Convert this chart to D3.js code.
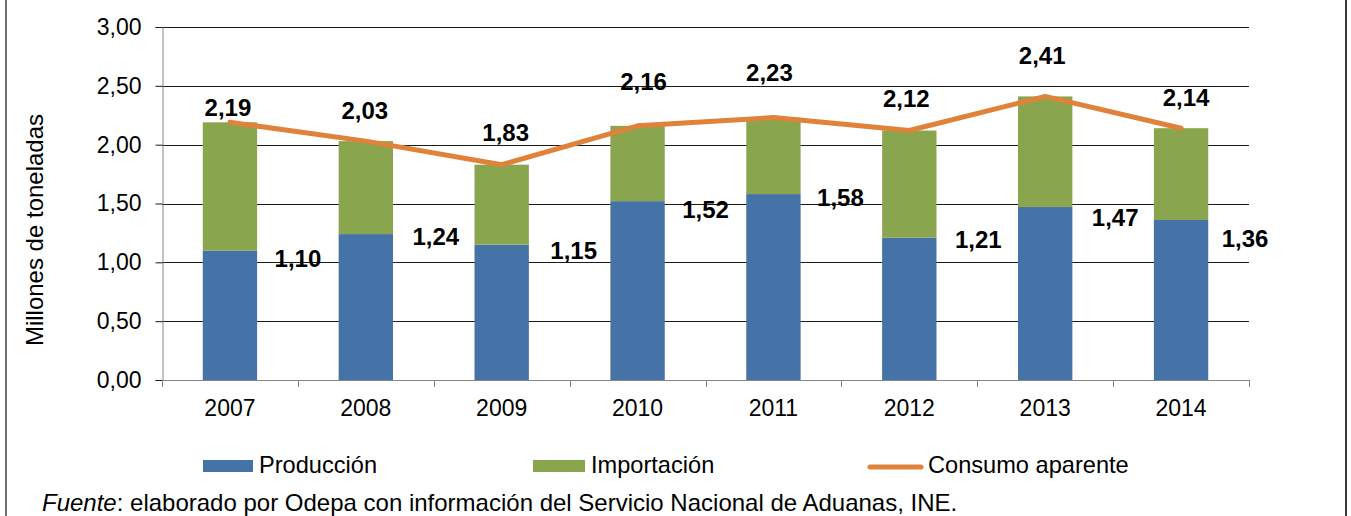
<!DOCTYPE html>
<html>
<head>
<meta charset="utf-8">
<script src="https://cdn.jsdelivr.net/npm/d3@7/dist/d3.min.js"></script>
<style>
  html, body { margin: 0; padding: 0; background: #fff; }
  svg { display: block; }
  text { font-family: "Liberation Sans", Arial, sans-serif; fill: #000; }
</style>
</head>
<body>
<svg id="chart" width="1351" height="516"></svg>
<script>
// ---- data ----
const years = ["2007", "2008", "2009", "2010", "2011", "2012", "2013", "2014"];
const produccion = [1.10, 1.24, 1.15, 1.52, 1.58, 1.21, 1.47, 1.36];
const consumo = [2.19, 2.03, 1.83, 2.16, 2.23, 2.12, 2.41, 2.14];
const importacion = consumo.map((c, i) => +(c - produccion[i]).toFixed(2));
const yTicks = [0, 0.5, 1, 1.5, 2, 2.5, 3];
const seriesNames = ["Producción", "Importación", "Consumo aparente"];
const yTitle = "Millones de toneladas";
const sourceItalic = "Fuente";
const sourceRest = ": elaborado por Odepa con información del Servicio Nacional de Aduanas, INE.";

// label nudges (pixels), as placed in the original
const totalLabelDx = [-2, -1, 4, 6, -4, -3, -3, 5];
const totalLabelDy = [-15, -31, -32, -44, -45, -32, -41, -31];
const prodLabelDx = [68, 70, 72, 68, 67, 69, 70, 64];
const prodLabelDy = [8, 3, 6, 8, 4, 2, 11, 19];

const colors = { prod: "#4572A7", imp: "#89A54E", line: "#E0823A" };
const fmt = v => v.toFixed(2).replace(".", ",");

const svg = d3.select("#chart");
const plot = { left: 162, right: 1249, top: 27, bottom: 380 };

const x = d3.scaleBand().domain(years).range([plot.left, plot.right])
  .paddingInner(0.6).paddingOuter(0.3);
const step = x.step();
const y = d3.scaleLinear().domain([0, 3]).range([plot.bottom, plot.top]);

// frame lines
svg.append("line").attr("x1", 6).attr("x2", 6).attr("y1", 0).attr("y2", 516)
  .attr("stroke", "#6e6e6e").attr("stroke-width", 2);
svg.append("line").attr("x1", 1346).attr("x2", 1346).attr("y1", 0).attr("y2", 516)
  .attr("stroke", "#3a3a3a").attr("stroke-width", 2);

// gridlines
svg.append("g").selectAll("line").data(yTicks.filter(t => t > 0)).join("line")
  .attr("x1", plot.left).attr("x2", plot.right)
  .attr("y1", d => Math.round(y(d)) + 0.5).attr("y2", d => Math.round(y(d)) + 0.5)
  .attr("stroke", "#1a1a1a").attr("stroke-width", 1);

// y axis
const yAxis = svg.append("g").attr("transform", `translate(${plot.left + 0.5},0)`)
  .call(d3.axisLeft(y).tickValues(yTicks).tickSize(7).tickPadding(14).tickFormat(fmt));
yAxis.select(".domain").attr("stroke", "#868686");
yAxis.selectAll(".tick line").attr("stroke", "#1a1a1a");
yAxis.selectAll(".tick text").attr("font-size", 23).attr("font-family", "Liberation Sans, Arial, sans-serif").attr("fill", "#000");

// y axis title
svg.append("text").attr("transform", "translate(35,230) rotate(-90)")
  .attr("text-anchor", "middle").attr("dy", "0.35em").attr("font-size", 24)
  .text(yTitle);

// bars
const g = svg.append("g");
g.selectAll("rect.prod").data(years).join("rect").attr("class", "prod")
  .attr("x", d => x(d)).attr("width", x.bandwidth())
  .attr("y", (d, i) => y(produccion[i])).attr("height", (d, i) => y(0) - y(produccion[i]))
  .attr("fill", colors.prod);
g.selectAll("rect.imp").data(years).join("rect").attr("class", "imp")
  .attr("x", d => x(d)).attr("width", x.bandwidth())
  .attr("y", (d, i) => y(produccion[i] + importacion[i]))
  .attr("height", (d, i) => y(produccion[i]) - y(produccion[i] + importacion[i]))
  .attr("fill", colors.imp);

// x axis (category boundaries as ticks)
svg.append("line").attr("x1", plot.left).attr("x2", plot.right)
  .attr("y1", plot.bottom + 0.5).attr("y2", plot.bottom + 0.5).attr("stroke", "#868686");
const bounds = d3.range(years.length + 1).map(i => plot.left + i * step);
svg.append("g").selectAll("line").data(bounds).join("line")
  .attr("x1", d => Math.round(d) + 0.5).attr("x2", d => Math.round(d) + 0.5)
  .attr("y1", plot.bottom).attr("y2", plot.bottom + 7).attr("stroke", "#868686");
svg.append("g").selectAll("text").data(years).join("text")
  .attr("x", d => x(d) + x.bandwidth() / 2).attr("y", 416)
  .attr("text-anchor", "middle").attr("font-size", 23).text(d => d);

// line
const line = d3.line().x((d, i) => x(years[i]) + x.bandwidth() / 2).y(d => y(d));
svg.append("path").datum(consumo).attr("d", line)
  .attr("fill", "none").attr("stroke", colors.line).attr("stroke-width", 5)
  .attr("stroke-linejoin", "round").attr("stroke-linecap", "round");

// total labels
svg.append("g").selectAll("text").data(consumo).join("text")
  .attr("x", (d, i) => x(years[i]) + x.bandwidth() / 2 + totalLabelDx[i])
  .attr("y", (d, i) => y(d) + totalLabelDy[i])
  .attr("dy", "0.35em").attr("text-anchor", "middle")
  .attr("font-size", 24).attr("font-weight", "bold").text(fmt);

// production labels
svg.append("g").selectAll("text").data(produccion).join("text")
  .attr("x", (d, i) => x(years[i]) + x.bandwidth() / 2 + prodLabelDx[i])
  .attr("y", (d, i) => y(d) + prodLabelDy[i])
  .attr("dy", "0.35em").attr("text-anchor", "middle")
  .attr("font-size", 24).attr("font-weight", "bold").text(fmt);

// legend
const legendBase = 473;
svg.append("rect").attr("x", 203).attr("y", 460).attr("width", 50).attr("height", 12).attr("fill", colors.prod);
svg.append("text").attr("x", 259).attr("y", legendBase).attr("font-size", 23.6).text(seriesNames[0]);
svg.append("rect").attr("x", 533).attr("y", 460).attr("width", 52).attr("height", 12).attr("fill", colors.imp);
svg.append("text").attr("x", 591).attr("y", legendBase).attr("font-size", 23.6).text(seriesNames[1]);
svg.append("line").attr("x1", 870).attr("x2", 921).attr("y1", 467).attr("y2", 467)
  .attr("stroke", colors.line).attr("stroke-width", 5).attr("stroke-linecap", "round");
svg.append("text").attr("x", 928).attr("y", legendBase).attr("font-size", 23.6).text(seriesNames[2]);

// source
const src = svg.append("text").attr("x", 42).attr("y", 511).attr("font-size", 24);
src.append("tspan").attr("font-style", "italic").text(sourceItalic);
src.append("tspan").text(sourceRest);
</script>
</body>
</html>
